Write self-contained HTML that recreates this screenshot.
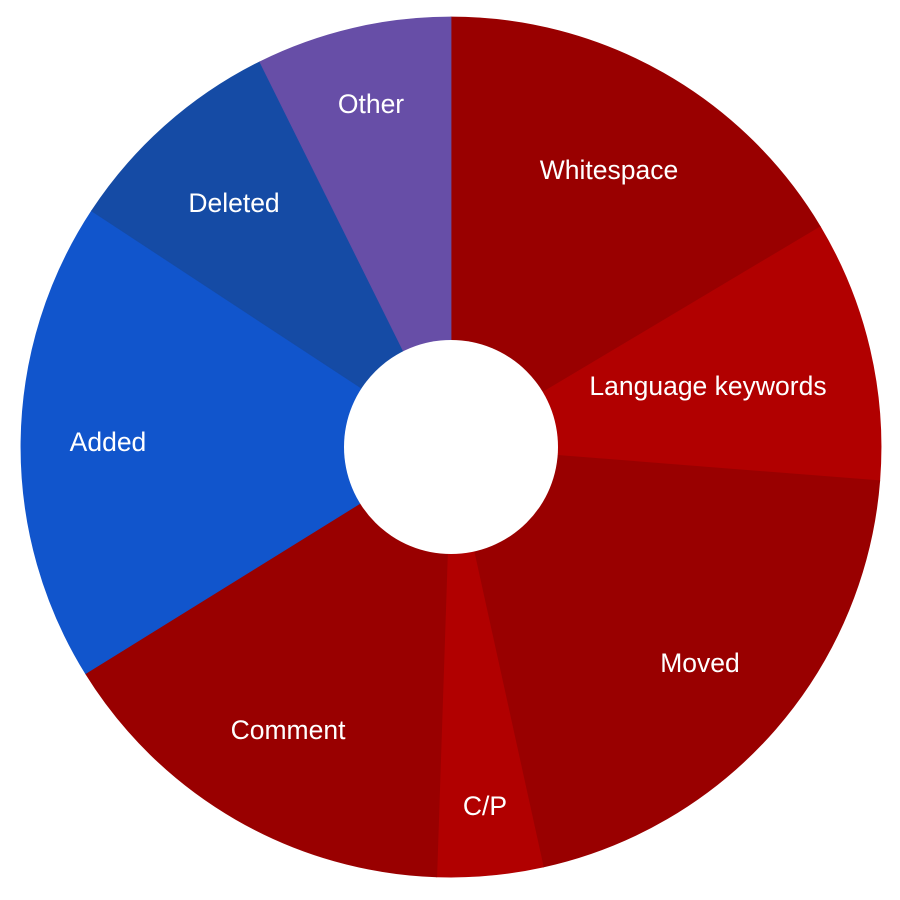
<!DOCTYPE html>
<html><head><meta charset="utf-8"><style>
html,body{margin:0;padding:0;background:#fff;width:900px;height:900px;overflow:hidden}
text{font-family:"Liberation Sans",Arial,sans-serif;font-size:26.5px;fill:#fff;text-anchor:middle;dominant-baseline:central}
</style></head><body>
<svg width="900" height="900" viewBox="0 0 900 900" xmlns="http://www.w3.org/2000/svg">
<g stroke-width="0.8">
<path d="M451,447 L451,17 A430,430 0 0 1 820.4,226.8 Z" fill="#990000" stroke="#990000"/>
<path d="M451,447 L820.4,226.8 A430,430 0 0 1 879.7,480.8 Z" fill="#b10000" stroke="#b10000"/>
<path d="M451,447 L879.7,480.8 A430,430 0 0 1 543.3,867 Z" fill="#990000" stroke="#990000"/>
<path d="M451,447 L543.3,867 A430,430 0 0 1 436.7,876.8 Z" fill="#b10000" stroke="#b10000"/>
<path d="M451,447 L436.7,876.8 A430,430 0 0 1 85.5,673.6 Z" fill="#990000" stroke="#990000"/>
<path d="M451,447 L85.5,673.6 A430,430 0 0 1 91.6,210.9 Z" fill="#1155cc" stroke="#1155cc"/>
<path d="M451,447 L91.6,210.9 A430,430 0 0 1 259.8,61.8 Z" fill="#154ba5" stroke="#154ba5"/>
<path d="M451,447 L259.8,61.8 A430,430 0 0 1 451,17 Z" fill="#674ea7" stroke="#674ea7"/>
</g>
<circle cx="451" cy="447" r="107" fill="#fff"/>
<text x="609" y="170">Whitespace</text>
<text x="708" y="386">Language keywords</text>
<text x="700" y="663">Moved</text>
<text x="485" y="806">C/P</text>
<text x="288" y="730">Comment</text>
<text x="108" y="442">Added</text>
<text x="234" y="203">Deleted</text>
<text x="371" y="104">Other</text>
</svg>
</body></html>
